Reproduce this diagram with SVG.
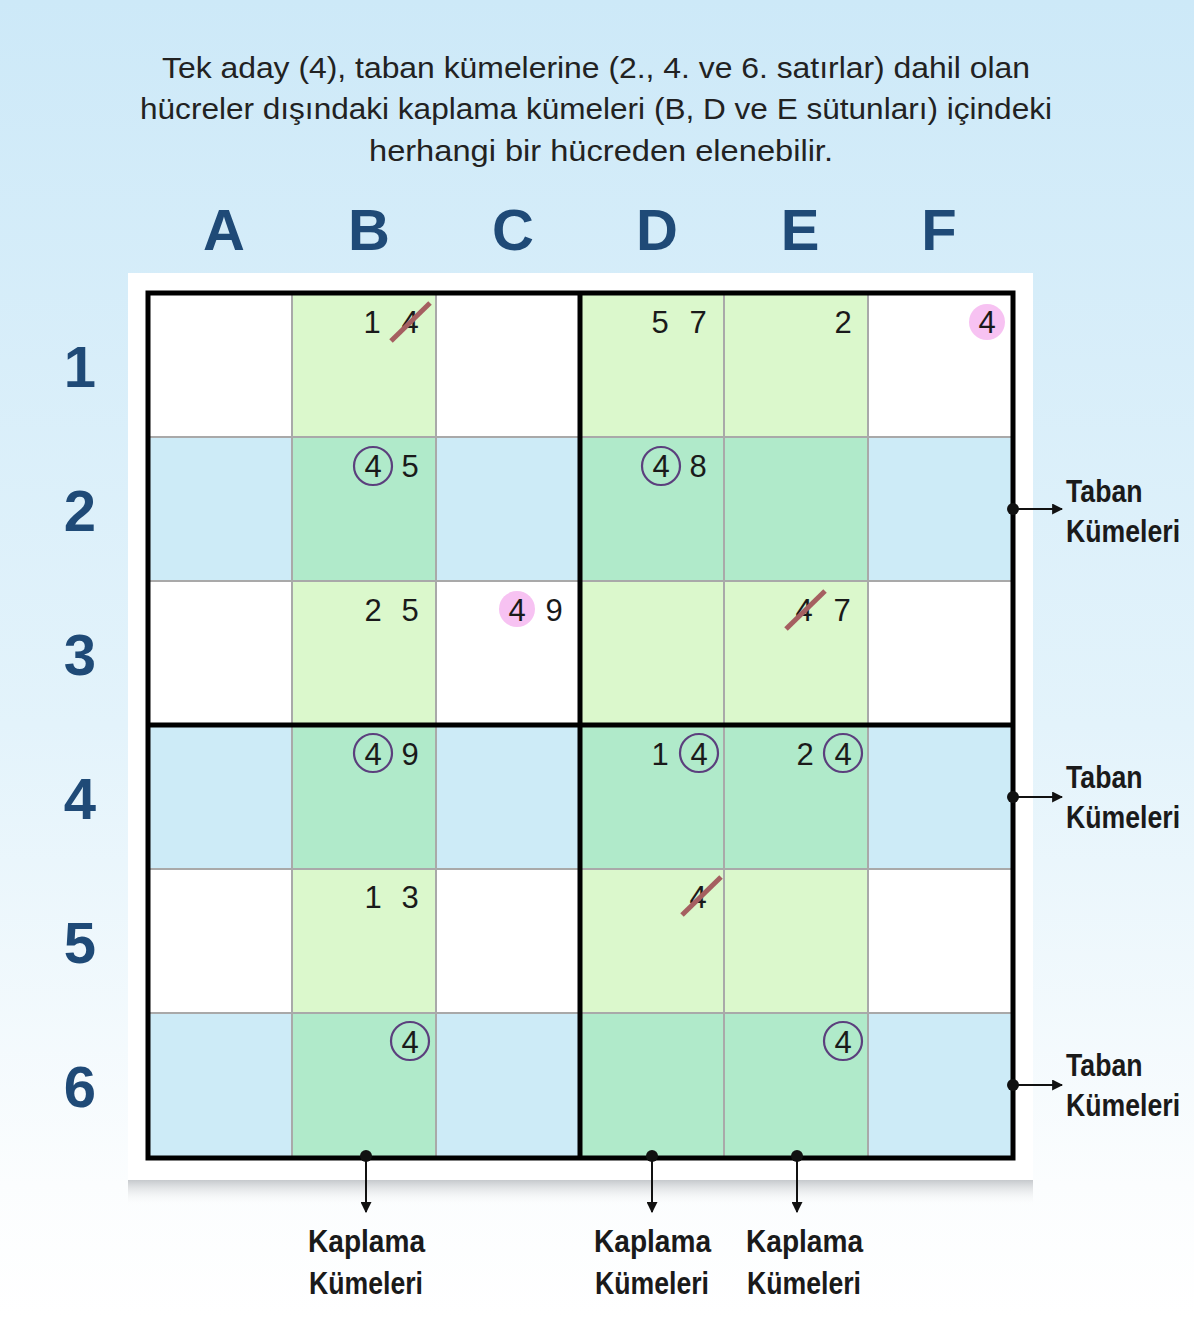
<svg xmlns="http://www.w3.org/2000/svg" width="1194" height="1317" viewBox="0 0 1194 1317">
<defs>
<linearGradient id="bg" x1="0" y1="0" x2="0" y2="1">
<stop offset="0" stop-color="#cde9f8"/>
<stop offset="0.55" stop-color="#e3f3fb"/>
<stop offset="0.9" stop-color="#fbfdfe"/>
<stop offset="1" stop-color="#ffffff"/>
</linearGradient>
<linearGradient id="shadow" x1="0" y1="0" x2="0" y2="1">
<stop offset="0" stop-color="#b8bcc0" stop-opacity="0.8"/>
<stop offset="1" stop-color="#ffffff" stop-opacity="0"/>
</linearGradient>
<marker id="arr" viewBox="0 0 10 10" refX="9" refY="5" markerWidth="11" markerHeight="11" markerUnits="userSpaceOnUse" orient="auto">
<path d="M0,0 L10,5 L0,10 z" fill="#111"/>
</marker>
</defs>
<style>
.title{font-family:"Liberation Sans",Arial,sans-serif;font-size:30px;fill:#222;text-anchor:middle}
.hdr{font-family:"Liberation Sans",Arial,sans-serif;font-size:58px;font-weight:bold;fill:#1f4a77;text-anchor:middle}
.d{font-family:"Liberation Sans",Arial,sans-serif;font-size:31px;fill:#1a1a1a;text-anchor:middle}
.lbl{font-family:"Liberation Sans",Arial,sans-serif;font-size:31px;font-weight:bold;fill:#1a1a1a}
.w{fill:#ffffff}
.g{fill:#dbf8cc}
.b{fill:#cdebf7}
.gb{fill:#b0eaca}
.thin{stroke:#a9a9a9;stroke-width:2;fill:none}
.thick{stroke:#000;stroke-width:5;fill:none}
.ring{fill:none;stroke:#5b3f7d;stroke-width:2.2}
.pink{fill:#f7c2f2}
.strike{stroke:#a55f60;stroke-width:5;stroke-linecap:butt}
.conn{stroke:#111;stroke-width:2;fill:none}
.dot{fill:#111}
</style>
<rect x="0" y="0" width="1194" height="1317" fill="url(#bg)"/>
<g id="title">
<text class="title" x="596" y="78" textLength="868" lengthAdjust="spacingAndGlyphs">Tek aday (4), taban kümelerine (2., 4. ve 6. satırlar) dahil olan</text>
<text class="title" x="596" y="119" textLength="912" lengthAdjust="spacingAndGlyphs">hücreler dışındaki kaplama kümeleri (B, D ve E sütunları) içindeki</text>
<text class="title" x="601" y="161" textLength="464" lengthAdjust="spacingAndGlyphs">herhangi bir hücreden elenebilir.</text>
</g>
<g id="col-headers">
<text class="hdr" x="224" y="250">A</text>
<text class="hdr" x="369" y="250">B</text>
<text class="hdr" x="513" y="250">C</text>
<text class="hdr" x="657" y="250">D</text>
<text class="hdr" x="800" y="250">E</text>
<text class="hdr" x="939" y="250">F</text>
</g>
<g id="row-headers">
<text class="hdr" x="80" y="387">1</text>
<text class="hdr" x="80" y="531">2</text>
<text class="hdr" x="80" y="675">3</text>
<text class="hdr" x="80" y="819">4</text>
<text class="hdr" x="80" y="963">5</text>
<text class="hdr" x="80" y="1107">6</text>
</g>
<g id="panel">
<rect x="128" y="1180" width="905" height="26" fill="url(#shadow)"/>
<rect x="128" y="273" width="905" height="907" fill="#ffffff"/>
</g>
<g id="cells">
<rect class="w" x="148" y="293" width="144" height="144"/>
<rect class="g" x="292" y="293" width="144" height="144"/>
<rect class="w" x="436" y="293" width="144" height="144"/>
<rect class="g" x="580" y="293" width="144" height="144"/>
<rect class="g" x="724" y="293" width="144" height="144"/>
<rect class="w" x="868" y="293" width="145" height="144"/>
<rect class="b" x="148" y="437" width="144" height="144"/>
<rect class="gb" x="292" y="437" width="144" height="144"/>
<rect class="b" x="436" y="437" width="144" height="144"/>
<rect class="gb" x="580" y="437" width="144" height="144"/>
<rect class="gb" x="724" y="437" width="144" height="144"/>
<rect class="b" x="868" y="437" width="145" height="144"/>
<rect class="w" x="148" y="581" width="144" height="144"/>
<rect class="g" x="292" y="581" width="144" height="144"/>
<rect class="w" x="436" y="581" width="144" height="144"/>
<rect class="g" x="580" y="581" width="144" height="144"/>
<rect class="g" x="724" y="581" width="144" height="144"/>
<rect class="w" x="868" y="581" width="145" height="144"/>
<rect class="b" x="148" y="725" width="144" height="144"/>
<rect class="gb" x="292" y="725" width="144" height="144"/>
<rect class="b" x="436" y="725" width="144" height="144"/>
<rect class="gb" x="580" y="725" width="144" height="144"/>
<rect class="gb" x="724" y="725" width="144" height="144"/>
<rect class="b" x="868" y="725" width="145" height="144"/>
<rect class="w" x="148" y="869" width="144" height="144"/>
<rect class="g" x="292" y="869" width="144" height="144"/>
<rect class="w" x="436" y="869" width="144" height="144"/>
<rect class="g" x="580" y="869" width="144" height="144"/>
<rect class="g" x="724" y="869" width="144" height="144"/>
<rect class="w" x="868" y="869" width="145" height="144"/>
<rect class="b" x="148" y="1013" width="144" height="145"/>
<rect class="gb" x="292" y="1013" width="144" height="145"/>
<rect class="b" x="436" y="1013" width="144" height="145"/>
<rect class="gb" x="580" y="1013" width="144" height="145"/>
<rect class="gb" x="724" y="1013" width="144" height="145"/>
<rect class="b" x="868" y="1013" width="145" height="145"/>
</g>
<g id="grid-lines">
<path class="thin" d="M292,293 V1158 M436,293 V1158 M724,293 V1158 M868,293 V1158 M148,437 H1013 M148,581 H1013 M148,869 H1013 M148,1013 H1013"/>
<path class="thick" d="M580,293 V1158 M148,725 H1013"/>
<rect class="thick" x="148" y="293" width="865" height="865"/>
</g>
<g id="candidates">
<g id="B1"><text class="d" x="372" y="333">1</text><text class="d" x="410" y="333">4</text><line class="strike" x1="391" y1="341" x2="430" y2="303"/></g>
<g id="D1"><text class="d" x="660" y="333">5</text><text class="d" x="698" y="333">7</text></g>
<g id="E1"><text class="d" x="843" y="333">2</text></g>
<g id="F1"><circle class="pink" cx="987" cy="322" r="18"/><text class="d" x="987" y="333">4</text></g>
<g id="B2"><circle class="ring" cx="373" cy="466" r="19"/><text class="d" x="373" y="477">4</text><text class="d" x="410" y="477">5</text></g>
<g id="D2"><circle class="ring" cx="661" cy="466" r="19"/><text class="d" x="661" y="477">4</text><text class="d" x="698" y="477">8</text></g>
<g id="B3"><text class="d" x="373" y="621">2</text><text class="d" x="410" y="621">5</text></g>
<g id="C3"><circle class="pink" cx="517" cy="609" r="18"/><text class="d" x="517" y="621">4</text><text class="d" x="554" y="621">9</text></g>
<g id="E3"><text class="d" x="804" y="621">4</text><text class="d" x="842" y="621">7</text><line class="strike" x1="786" y1="629" x2="825" y2="591"/></g>
<g id="B4"><circle class="ring" cx="373" cy="753" r="19"/><text class="d" x="373" y="765">4</text><text class="d" x="410" y="765">9</text></g>
<g id="D4"><text class="d" x="660" y="765">1</text><circle class="ring" cx="699" cy="753" r="19"/><text class="d" x="699" y="765">4</text></g>
<g id="E4"><text class="d" x="805" y="765">2</text><circle class="ring" cx="843" cy="753" r="19"/><text class="d" x="843" y="765">4</text></g>
<g id="B5"><text class="d" x="373" y="908">1</text><text class="d" x="410" y="908">3</text></g>
<g id="D5"><text class="d" x="698" y="908">4</text><line class="strike" x1="682" y1="915" x2="721" y2="877"/></g>
<g id="B6"><circle class="ring" cx="410" cy="1041" r="19"/><text class="d" x="410" y="1053">4</text></g>
<g id="E6"><circle class="ring" cx="843" cy="1041" r="19"/><text class="d" x="843" y="1053">4</text></g>
</g>
<g id="connectors">
<circle class="dot" cx="1013" cy="509" r="6"/>
<line class="conn" x1="1013" y1="509" x2="1062" y2="509" marker-end="url(#arr)"/>
<circle class="dot" cx="1013" cy="797" r="6"/>
<line class="conn" x1="1013" y1="797" x2="1062" y2="797" marker-end="url(#arr)"/>
<circle class="dot" cx="1013" cy="1085" r="6"/>
<line class="conn" x1="1013" y1="1085" x2="1062" y2="1085" marker-end="url(#arr)"/>
<circle class="dot" cx="366" cy="1156" r="6"/>
<line class="conn" x1="366" y1="1156" x2="366" y2="1212" marker-end="url(#arr)"/>
<circle class="dot" cx="652" cy="1156" r="6"/>
<line class="conn" x1="652" y1="1156" x2="652" y2="1212" marker-end="url(#arr)"/>
<circle class="dot" cx="797" cy="1156" r="6"/>
<line class="conn" x1="797" y1="1156" x2="797" y2="1212" marker-end="url(#arr)"/>
</g>
<g id="label-taban-2" transform="translate(1066,0) scale(0.86,1)">
<text class="lbl" x="0" y="502">Taban</text>
<text class="lbl" x="0" y="542">Kümeleri</text>
</g>
<g id="label-taban-4" transform="translate(1066,0) scale(0.86,1)">
<text class="lbl" x="0" y="788">Taban</text>
<text class="lbl" x="0" y="828">Kümeleri</text>
</g>
<g id="label-taban-6" transform="translate(1066,0) scale(0.86,1)">
<text class="lbl" x="0" y="1076">Taban</text>
<text class="lbl" x="0" y="1116">Kümeleri</text>
</g>
<g id="label-kaplama-B">
<text class="lbl" x="308" y="1252" textLength="117" lengthAdjust="spacingAndGlyphs">Kaplama</text>
<text class="lbl" x="309" y="1294" textLength="114" lengthAdjust="spacingAndGlyphs">Kümeleri</text>
</g>
<g id="label-kaplama-D">
<text class="lbl" x="594" y="1252" textLength="117" lengthAdjust="spacingAndGlyphs">Kaplama</text>
<text class="lbl" x="595" y="1294" textLength="114" lengthAdjust="spacingAndGlyphs">Kümeleri</text>
</g>
<g id="label-kaplama-E">
<text class="lbl" x="746" y="1252" textLength="117" lengthAdjust="spacingAndGlyphs">Kaplama</text>
<text class="lbl" x="747" y="1294" textLength="114" lengthAdjust="spacingAndGlyphs">Kümeleri</text>
</g>
</svg>
